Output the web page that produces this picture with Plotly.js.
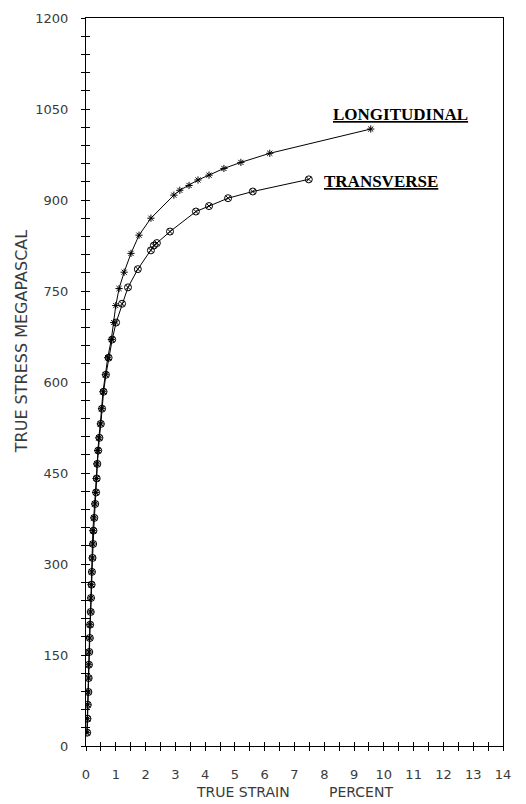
<!DOCTYPE html>
<html>
<head>
<meta charset="utf-8">
<script src="https://cdn.plot.ly/plotly-3.0.1.min.js"></script>
<style>html,body{margin:0;padding:0;background:#fff;}#chart{width:526px;height:804px;}</style>
</head>
<body>
<div id="chart"></div>
<script>
// Longitudinal series (asterisk markers)
const longStrain = [0.03,0.04,0.05,0.07,0.08,0.09,0.10,0.12,0.13,0.15,0.16,0.17,0.19,0.21,0.22,0.23,0.26,0.29,0.32,0.34,0.36,0.39,0.43,0.48,0.52,0.57,0.65,0.73,0.85,0.93,1.00,1.11,1.28,1.51,1.78,2.18,2.95,3.15,3.46,3.76,4.13,4.63,5.20,6.17,9.56];
const longStress = [22,45,68,89,112,134,155,178,200,221,244,266,287,310,333,355,376,399,418,441,465,487,508,531,556,584,612,640,670,698,726,754,781,812,842,870,908,916,924,933,941,952,962,977,1017];
// Transverse series (circle-x markers)
const transStrain = [0.04,0.05,0.06,0.08,0.09,0.10,0.11,0.13,0.14,0.16,0.17,0.19,0.20,0.22,0.24,0.25,0.28,0.31,0.34,0.36,0.38,0.41,0.45,0.50,0.54,0.59,0.67,0.76,0.88,1.01,1.21,1.41,1.74,2.18,2.28,2.38,2.82,3.69,4.13,4.77,5.60,7.48];
const transStress = [22,45,68,89,112,134,155,178,200,221,244,266,287,310,333,355,376,399,418,441,465,487,508,531,556,584,612,640,670,698,729,756,786,817,825,829,848,881,890,903,914,934];

const xTicks = [0,1,2,3,4,5,6,7,8,9,10,11,12,13,14];
const yTicks = [0,150,300,450,600,750,900,1050,1200];
const seriesNames = ['LONGITUDINAL','TRANSVERSE'];
const xTitleParts = ['TRUE STRAIN','PERCENT'];
const yTitle = 'TRUE STRESS MEGAPASCAL';

const textColor = '#3a3a3a';
const tickFont = {family:'DejaVu Sans', size:13, color:textColor};

const traces = [
  {x:longStrain, y:longStress, mode:'lines+markers', name:seriesNames[0],
   line:{color:'#000', width:1},
   marker:{symbol:'asterisk-open', size:6, color:'#000', line:{color:'#000', width:1}}},
  {x:transStrain, y:transStress, mode:'lines+markers', name:seriesNames[1],
   line:{color:'#000', width:1},
   marker:{symbol:'circle-x-open', size:7, color:'#000', line:{color:'#000', width:1}}},
  {x:[], y:[], xaxis:'x2', yaxis:'y2', showlegend:false, hoverinfo:'skip'}
];

const axCommon = {showgrid:false, zeroline:false, showline:true, linecolor:'#000', linewidth:1,
  tickcolor:'#000', tickwidth:1, ticklen:4};

const layout = {
  width:526, height:804,
  margin:{l:86, r:23, t:18, b:58},
  paper_bgcolor:'#fff', plot_bgcolor:'#fff',
  showlegend:false,
  xaxis: Object.assign({}, axCommon, {range:[0,14], tickvals:xTicks, ticktext:xTicks.map(String),
    ticks:'outside', mirror:true, tickfont:tickFont, ticklabelstandoff:12,
    minor:{dtick:0.5, tick0:0, ticks:'outside', ticklen:4, tickcolor:'#000', tickwidth:1, showgrid:false}}),
  yaxis: Object.assign({}, axCommon, {range:[0,1200], tickvals:yTicks, ticktext:yTicks.map(String),
    ticks:'outside', mirror:true, tickfont:tickFont, ticklabelstandoff:10,
    minor:{dtick:30, tick0:0, ticks:'outside', ticklen:4, tickcolor:'#000', tickwidth:1, showgrid:false}}),
  xaxis2: Object.assign({}, axCommon, {range:[0,14], overlaying:'x', anchor:'y2', side:'bottom',
    tickvals:xTicks, ticks:'inside', showticklabels:false,
    minor:{dtick:0.5, tick0:0, ticks:'inside', ticklen:4, tickcolor:'#000', tickwidth:1, showgrid:false}}),
  yaxis2: Object.assign({}, axCommon, {range:[0,1200], overlaying:'y', anchor:'x2', side:'left',
    tickvals:yTicks, ticks:'inside', showticklabels:false,
    minor:{dtick:30, tick0:0, ticks:'inside', ticklen:4, tickcolor:'#000', tickwidth:1, showgrid:false}}),
  annotations:[
    {text:'<u>'+seriesNames[0]+'</u>', xref:'x', yref:'y', x:10.57, y:1041, showarrow:false,
     xanchor:'center', yanchor:'middle', font:{family:'Liberation Serif', size:17, color:'#000', weight:'bold'}},
    {text:'<u>'+seriesNames[1]+'</u>', xref:'x', yref:'y', x:9.9, y:930, showarrow:false,
     xanchor:'center', yanchor:'middle', font:{family:'Liberation Serif', size:17, color:'#000', weight:'bold'}},
    {text:yTitle, xref:'paper', yref:'paper', x:-0.156, y:0.556, textangle:-90, showarrow:false,
     xanchor:'center', yanchor:'middle', font:{family:'DejaVu Sans', size:16, color:textColor}},
    {text:xTitleParts[0], xref:'paper', yref:'paper', x:0.3765, y:-0.063, showarrow:false,
     xanchor:'center', yanchor:'middle', font:{family:'DejaVu Sans', size:14, color:textColor}},
    {text:xTitleParts[1], xref:'paper', yref:'paper', x:0.659, y:-0.063, showarrow:false,
     xanchor:'center', yanchor:'middle', font:{family:'DejaVu Sans', size:14, color:textColor}}
  ]
};

Plotly.newPlot('chart', traces, layout, {staticPlot:true, displayModeBar:false});
</script>
</body>
</html>
